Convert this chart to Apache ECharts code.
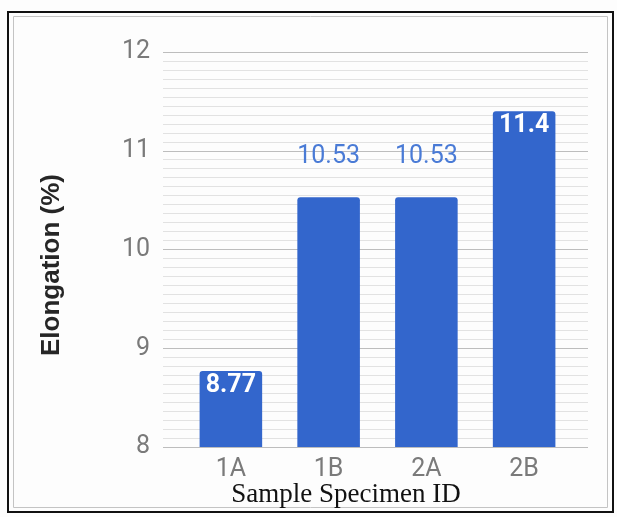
<!DOCTYPE html>
<html>
<head>
<meta charset="utf-8">
<style>
  html, body { margin: 0; padding: 0; background: #ffffff; }
  #chart { width: 617px; height: 517px; }
</style>
<script src="https://cdn.jsdelivr.net/npm/echarts@6/dist/echarts.min.js"></script>
</head>
<body>
<div id="chart"></div>
<script>
// Elongation per sample specimen
const categories = ['1A', '1B', '2A', '2B'];
const elongation = [8.77, 10.53, 10.53, 11.4];
const yTicks = [8, 9, 10, 11, 12];

const BAR = '#3366cc';
const yMin = yTicks[0];
const yMax = yTicks[yTicks.length - 1];

const chart = echarts.init(document.getElementById('chart'), null, { renderer: 'canvas' });

// values too tall for the label to sit above the bar get it inside, in white
const insideIdx = [0, 3];

const option = {
  backgroundColor: '#fdfdfd',
  animation: false,
  grid: [
    // wide grid carrying the gridlines and y labels
    { left: 163, right: 29, top: 52, bottom: 70 },
    // narrower grid holding the bars and category labels
    { left: 182, right: 44, top: 52, bottom: 70 }
  ],
  xAxis: [
    { gridIndex: 0, type: 'category', data: categories, show: false },
    {
      gridIndex: 1, type: 'category', data: categories,
      axisLine: { show: false }, axisTick: { show: false },
      axisLabel: { color: '#7a7a7a', fontFamily: 'Roboto', fontSize: 25, margin: 10 }
    }
  ],
  yAxis: [
    {
      gridIndex: 0, type: 'value', min: yMin, max: yMax, interval: 1,
      axisLine: { show: false }, axisTick: { show: false },
      axisLabel: {
        color: '#7a7a7a', fontFamily: 'Roboto', fontSize: 25, margin: 13,
        formatter: v => yTicks.includes(v) ? String(v) : ''
      },
      splitLine: { show: true, lineStyle: { color: '#bdbdbd', width: 1 } },
      minorTick: { show: false, splitNumber: 11 },
      minorSplitLine: { show: true, lineStyle: { color: '#e2e2e2', width: 1 } }
    },
    { gridIndex: 1, type: 'value', min: yMin, max: yMax, interval: 1, show: false, splitLine: { show: false } }
  ],
  series: [{
    type: 'bar',
    xAxisIndex: 1,
    yAxisIndex: 1,
    barWidth: '64%',
    itemStyle: { color: BAR, borderRadius: [3, 3, 0, 0] },
    data: elongation.map((v, i) => {
      const inside = insideIdx.includes(i);
      return {
        value: v,
        label: inside
          ? { show: true, position: 'insideTop', distance: 2, color: '#ffffff', fontWeight: 'bold', fontFamily: 'Roboto', fontSize: 25 }
          : { show: true, position: 'top', distance: 28, color: '#4a7bd6', fontFamily: 'Roboto', fontSize: 25 }
      };
    }),
    label: { formatter: p => String(p.value) }
  }],
  graphic: [
    // page frame
    { type: 'rect', shape: { x: 8, y: 12, width: 605, height: 500 }, style: { fill: 'none', stroke: '#111', lineWidth: 2 }, z: 10 },
    { type: 'rect', shape: { x: 13.5, y: 16.5, width: 594, height: 491 }, style: { fill: 'none', stroke: '#c4c4c4', lineWidth: 1 }, z: 10 },
    // y-axis title, rotated
    {
      type: 'text', x: 52, y: 265, rotation: Math.PI / 2,
      style: {
        text: 'Elongation (%)', fill: '#262626',
        font: 'bold 26px "Liberation Sans", Arial, sans-serif',
        textAlign: 'center', textVerticalAlign: 'middle'
      },
      z: 10
    },
    // x-axis title in serif type
    {
      type: 'text', x: 346, y: 495,
      style: {
        text: 'Sample Specimen ID', fill: '#111',
        font: '27px "Liberation Serif", "Times New Roman", serif',
        textAlign: 'center', textVerticalAlign: 'middle'
      },
      z: 10
    }
  ]
};

chart.setOption(option);
</script>
</body>
</html>
